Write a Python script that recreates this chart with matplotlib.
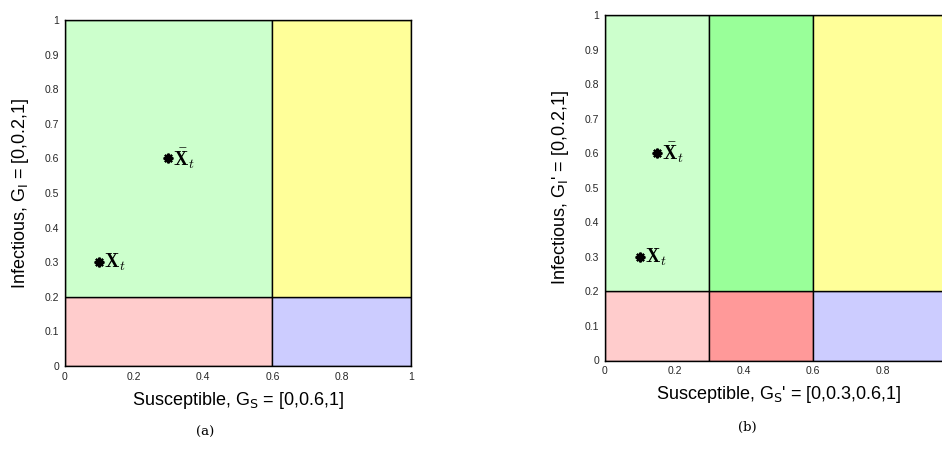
import matplotlib
matplotlib.use("Agg")
import matplotlib.pyplot as plt
from matplotlib.patches import Rectangle

# Data
grid_s_a = [0, 0.6, 1]
grid_i_a = [0, 0.2, 1]
colors_a = [["#ffcccc", "#ccccff"],   # lower row (I in [0,0.2]) for each S cell
            ["#ccffcc", "#ffff99"]]   # upper row
grid_s_b = [0, 0.3, 0.6, 1]
grid_i_b = [0, 0.2, 1]
colors_b = [["#ffcccc", "#ff9999", "#ccccff"],
            ["#ccffcc", "#99ff99", "#ffff99"]]
points_a = {"X": (0.1, 0.3), "Xbar": (0.3, 0.6)}
points_b = {"X": (0.1, 0.3), "Xbar": (0.15, 0.6)}
xticks = [0, 0.2, 0.4, 0.6, 0.8, 1]
xticks_b_labelled = [0, 0.2, 0.4, 0.6, 0.8]   # "1" falls outside the visible picture
yticks = [0, 0.1, 0.2, 0.3, 0.4, 0.5, 0.6, 0.7, 0.8, 0.9, 1]
xlabel_a = r"Susceptible, G$_{\mathrm{S}}$ = [0,0.6,1]"
ylabel_a = r"Infectious, G$_{\mathrm{I}}$ = [0,0.2,1]"
xlabel_b = r"Susceptible, G$_{\mathrm{S}}$' = [0,0.3,0.6,1]"
ylabel_b = r"Infectious, G$_{\mathrm{I}}$' = [0,0.2,1]"

plt.rcParams['font.family'] = ['Liberation Sans', 'DejaVu Sans']

fig = plt.figure(figsize=(9.42, 4.53), dpi=100)
ax1 = fig.add_axes([64.5/942, 87/453, 346.5/942, 346/453])
ax2 = fig.add_axes([605/942, 92.5/453, 347/942, 345.5/453])

def draw(ax, gs, gi, cols, pts, xl, yl, xlabelled):
    for r in range(len(gi) - 1):
        for c in range(len(gs) - 1):
            ax.add_patch(Rectangle((gs[c], gi[r]), gs[c+1]-gs[c], gi[r+1]-gi[r],
                                   facecolor=cols[r][c], edgecolor="black", lw=1.0, zorder=1))
    ax.set_xlim(0, 1)
    ax.set_ylim(0, 1)
    ax.set_xticks(xticks)
    ax.set_xticklabels([f"{t:g}" if t in xlabelled else "" for t in xticks])
    ax.set_yticks(yticks)
    ax.set_yticklabels([f"{t:g}" for t in yticks])
    ax.tick_params(length=0, labelsize=7.5, colors="#262626", pad=4)
    for sp in ax.spines.values():
        sp.set_color("black")
        sp.set_linewidth(1.0)
        sp.set_zorder(3)
    ax.set_xlabel(xl, fontsize=13, math_fontfamily='dejavusans', labelpad=6)
    ax.set_ylabel(yl, fontsize=13, math_fontfamily='dejavusans', labelpad=10)
    for key, lab in (("X", r"$\mathbf{X}_t$"), ("Xbar", r"$\bar{\mathbf{X}}_t$")):
        x, y = pts[key]
        ax.plot([x], [y], marker=(8, 2, 0), color="black", ms=7, mew=1.6, zorder=4)
        ax.annotate(lab, (x, y), xytext=(3.5, 0), textcoords="offset points",
                    ha="left", va="center", fontsize=14, math_fontfamily='cm', zorder=5)

draw(ax1, grid_s_a, grid_i_a, colors_a, points_a, xlabel_a, ylabel_a, xticks)
draw(ax2, grid_s_b, grid_i_b, colors_b, points_b, xlabel_b, ylabel_b, xticks_b_labelled)

fig.text(205/942, 1 - 432/453, "(a)", ha="center", va="center", fontsize=9.5,
         family="DejaVu Serif")
fig.text(747/942, 1 - 427/453, "(b)", ha="center", va="center", fontsize=9.5,
         family="DejaVu Serif")

fig.savefig("out.png", dpi=100)
